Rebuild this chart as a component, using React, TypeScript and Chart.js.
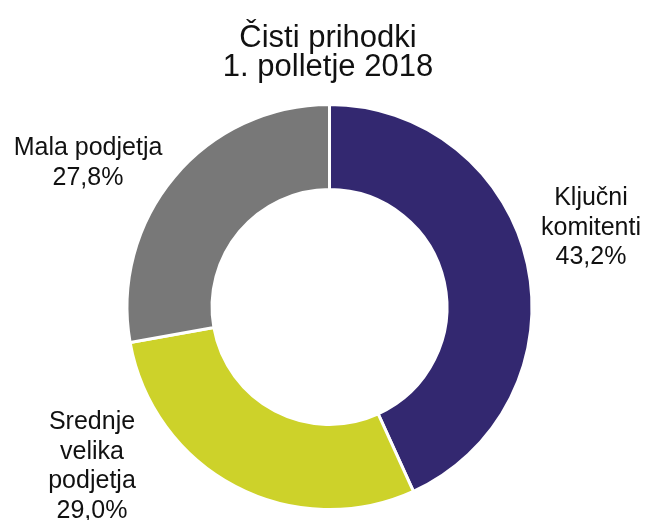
import React, { useEffect, useRef } from "react";
import { Chart, registerables } from "chart.js";

Chart.register(...registerables);

const titleLines = ["Čisti prihodki", "1. polletje 2018"];
const categories = [["Ključni", "komitenti"], ["Srednje", "velika", "podjetja"], ["Mala podjetja"]];
const values = [43.2, 29.0, 27.8];
const colors = ["#332870", "#CDD22A", "#787878"];

const FONT = "'Liberation Sans', Arial, Helvetica, sans-serif";

const fmt = (v: number) => v.toFixed(1).replace(".", ",") + "%";

// label anchor offsets relative to doughnut centre (px), first-line baseline
const labelAnchors = [
  { dx: 261.5, dy: -102 },
  { dx: -237.5, dy: 122 },
  { dx: -241.5, dy: -152 },
];

const labelsPlugin = {
  id: "outerLabels",
  afterDraw(chart: any) {
    const ctx = chart.ctx;
    const meta = chart.getDatasetMeta(0);
    const arc0 = meta.data[0];
    if (!arc0) return;
    const cx = arc0.x;
    const cy = arc0.y;
    ctx.save();
    ctx.fillStyle = "#111111";
    ctx.textAlign = "center";
    ctx.textBaseline = "alphabetic";
    // title
    ctx.font = `31px ${FONT}`;
    titleLines.forEach((t, i) => ctx.fillText(t, cx - 1.5, 47 + i * 28.5));
    // labels
    ctx.font = `25px ${FONT}`;
    meta.data.forEach((_: any, i: number) => {
      const lines = [...categories[i], fmt(values[i])];
      const a = labelAnchors[i];
      lines.forEach((l, j) => ctx.fillText(l, cx + a.dx, cy + a.dy + j * 29.7));
    });
    ctx.restore();
  },
};

export default function App() {
  const ref = useRef<HTMLCanvasElement | null>(null);
  useEffect(() => {
    if (!ref.current) return;
    const chart = new Chart(ref.current, {
      type: "doughnut",
      data: {
        labels: categories.map((c) => c.join(" ")),
        datasets: [
          {
            data: values,
            backgroundColor: colors,
            borderColor: "#ffffff",
            borderWidth: 3,
            hoverOffset: 0,
            offset: 0,
          },
        ],
      },
      options: {
        animation: false,
        responsive: false,
        cutout: "58%",
        layout: { padding: { top: 103, bottom: 9, left: 14, right: 0 } },
        plugins: {
          legend: { display: false },
          title: { display: false },
          tooltip: { enabled: false },
        },
      },
      plugins: [labelsPlugin],
    });
    return () => chart.destroy();
  }, []);
  return (
    <div style={{ position: "fixed", left: 0, top: 0, width: 645, height: 520, background: "#fff" }}>
      <canvas ref={ref} width={645} height={520} style={{ width: 645, height: 520 }} />
    </div>
  );
}
